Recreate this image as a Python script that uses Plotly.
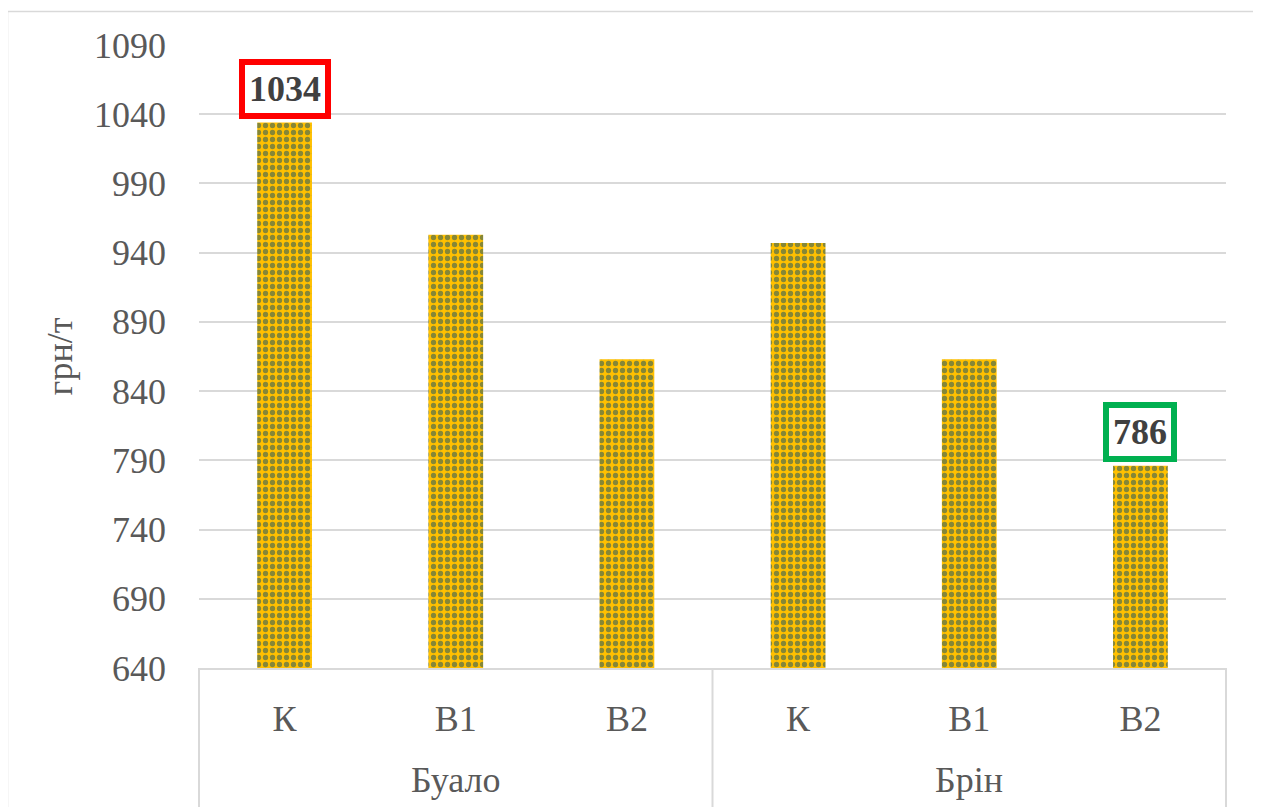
import plotly.graph_objects as go

groups = ["Буало", "Буало", "Буало", "Брін", "Брін", "Брін"]
variants = ["К", "В1", "В2", "К", "В1", "В2"]
values = [1034, 953, 863, 947, 863, 786]

label_idx = [0, 5]
label_colors = ["#FF0000", "#00B050"]

y_ticks = [640, 690, 740, 790, 840, 890, 940, 990, 1040, 1090]

FONT = "Liberation Serif"
GRID = "#D9D9D9"
TXT = "#595959"
FS = 36

# page offset of the figure (body margin)
OFF = 8
W, H = 1253, 799
L, R, T, B = 191, 35, 37, 139
pw, ph = W - L - R, H - T - B


def px(x):
    return (x - OFF - L) / pw


def py(y):
    return (H - B - (y - OFF)) / ph


cats = [g + " " + v for g, v in zip(groups, variants)]
group_names = []
for g in groups:
    if g not in group_names:
        group_names.append(g)

fig = go.Figure()
fig.add_trace(go.Bar(
    x=cats,
    y=values,
    marker=dict(
        color="#FFC000",
        line=dict(width=0),
        pattern=dict(shape=".", fgcolor="#0E4D6B", bgcolor="#FFC000",
                     size=7, solidity=0.45, fillmode="overlay"),
    ),
    width=0.32,
    showlegend=False,
    hoverinfo="skip",
))

for i, c in zip(label_idx, label_colors):
    fig.add_annotation(
        x=i, y=values[i], xref="x", yref="y",
        text="<b>%d</b>" % values[i],
        showarrow=False, yanchor="bottom", yshift=4,
        font=dict(family=FONT, size=FS, color="#404040"),
        bgcolor="white", bordercolor=c, borderwidth=6, borderpad=4,
    )

# group labels (second category row)
for g in group_names:
    idx = [k for k, gg in enumerate(groups) if gg == g]
    fig.add_annotation(
        x=sum(idx) / len(idx), xref="x", y=py(780), yref="paper",
        text=g, showarrow=False, yanchor="middle",
        font=dict(family=FONT, size=FS, color=TXT),
    )

# outer chart border
fig.add_shape(type="rect", xref="paper", yref="paper",
              x0=px(7.5), x1=px(1256), y0=py(830), y1=py(11.5),
              line=dict(color=GRID, width=1.5), fillcolor="rgba(0,0,0,0)",
              layer="below")

# category box vertical lines
for xp in (0, 0.5, 1):
    fig.add_shape(type="line", xref="paper", yref="paper",
                  x0=xp, x1=xp, y0=0, y1=py(830),
                  line=dict(color=GRID, width=2))

fig.update_layout(
    width=W, height=H,
    margin=dict(l=L, r=R, t=T, b=B),
    paper_bgcolor="white", plot_bgcolor="white",
    font=dict(family=FONT, size=FS, color=TXT),
    bargap=0.68,
)
fig.update_yaxes(
    range=[640, 1090], tickvals=y_ticks,
    showgrid=True, gridcolor=GRID, gridwidth=1.5,
    zeroline=False, showline=False, ticks="",
    ticklabelstandoff=32,
    tickfont=dict(family=FONT, size=FS, color=TXT),
    title=dict(text="грн/т", standoff=10,
               font=dict(family=FONT, size=FS, color=TXT)),
)
fig.update_xaxes(
    type="category",
    tickvals=cats, ticktext=variants,
    showline=True, linecolor=GRID, linewidth=2,
    showgrid=False, ticks="",
    ticklabelstandoff=18,
    tickfont=dict(family=FONT, size=FS, color=TXT),
)

fig.write_html("out.html")
